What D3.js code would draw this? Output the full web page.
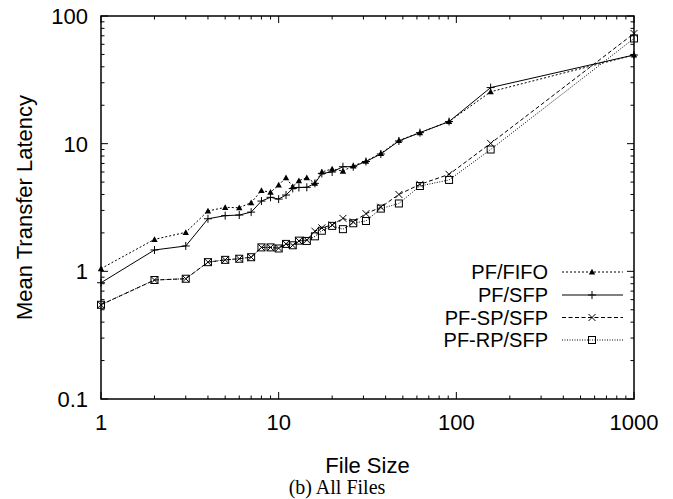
<!DOCTYPE html>
<html>
<head>
<meta charset="utf-8">
<script src="https://cdn.jsdelivr.net/npm/d3@7/dist/d3.min.js"></script>
<style>
  html, body { margin: 0; padding: 0; background: #fff; }
  svg { display: block; }
  text { font-family: "Liberation Sans", Arial, Helvetica, sans-serif; fill: #000; }
</style>
</head>
<body>
<svg id="chart" width="673" height="499"></svg>
<script>
// ---- data ----
const fileSizes = [1, 2, 3, 4, 5, 6, 7, 8, 9, 10, 11, 12, 13, 14.4, 16, 17.5, 20, 23, 26.3, 31, 37.6, 47.5, 62.4, 91, 156, 1000];
const pfFifo = [1.05, 1.78, 2.02, 2.97, 3.17, 3.15, 3.45, 4.3, 4.16, 4.74, 5.41, 4.6, 5.13, 5.41, 4.9, 6.0, 6.35, 6.1, 6.7, 7.3, 8.4, 10.6, 12.2, 14.9, 25.5, 49.5];
const pfSfp = [0.814, 1.47, 1.58, 2.58, 2.73, 2.76, 2.91, 3.55, 3.8, 3.68, 3.96, 4.46, 4.54, 4.55, 4.89, 5.85, 6.0, 6.6, 6.6, 7.25, 8.3, 10.5, 12.2, 14.9, 27.5, 49.5];
const pfSpSfp = [0.547, 0.855, 0.875, 1.18, 1.23, 1.255, 1.29, 1.54, 1.54, 1.52, 1.64, 1.6, 1.73, 1.76, 2.06, 2.19, 2.31, 2.6, 2.44, 2.83, 3.18, 4.0, 4.8, 5.75, 10.05, 73];
const pfRpSfp = [0.547, 0.855, 0.875, 1.18, 1.23, 1.255, 1.29, 1.54, 1.54, 1.51, 1.64, 1.6, 1.74, 1.73, 1.88, 2.08, 2.27, 2.14, 2.38, 2.48, 3.1, 3.4, 4.66, 5.2, 9.0, 66.7];
const seriesNames = ["PF/FIFO", "PF/SFP", "PF-SP/SFP", "PF-RP/SFP"];
const xTickValues = [1, 10, 100, 1000];
const yTickValues = [0.1, 1, 10, 100];
const xTickLabels = ["1", "10", "100", "1000"];
const yTickLabels = ["0.1", "1", "10", "100"];
const xTitle = "File Size";
const yTitle = "Mean Transfer Latency";
const caption = "(b) All Files";

// ---- layout ----
const L = 101, R = 634, T = 16, B = 399;
const svg = d3.select("#chart");
svg.append("rect").attr("width", 673).attr("height", 499).attr("fill", "#fff");

const x = d3.scaleLog().domain([1, 1000]).range([L, R]);
const y = d3.scaleLog().domain([0.1, 100]).range([B, T]);

const styles = [
  { dash: "2,2", marker: "tri" },
  { dash: null, marker: "plus" },
  { dash: "4,2.5", marker: "x" },
  { dash: "1,1.5", marker: "sq" }
];
const seriesData = [pfFifo, pfSfp, pfSpSfp, pfRpSfp];

// minor ticks
const minorX = [], minorY = [];
for (let d = 1; d < 1000; d *= 10) for (let k = 2; k <= 9; k++) minorX.push(d * k);
for (let d = 0.1; d < 99; d *= 10) for (let k = 2; k <= 9; k++) minorY.push(+(d * k).toPrecision(3));

const MAJ = 7, MIN = 3.5;
const tickG = svg.append("g").attr("stroke", "#000").attr("stroke-width", 1);
function vt(v, len) {
  tickG.append("line").attr("x1", x(v)).attr("x2", x(v)).attr("y1", B).attr("y2", B - len);
  tickG.append("line").attr("x1", x(v)).attr("x2", x(v)).attr("y1", T).attr("y2", T + len);
}
function ht(v, len) {
  tickG.append("line").attr("y1", y(v)).attr("y2", y(v)).attr("x1", L).attr("x2", L + len);
  tickG.append("line").attr("y1", y(v)).attr("y2", y(v)).attr("x1", R).attr("x2", R - len);
}
minorX.forEach(v => vt(v, MIN));
xTickValues.forEach(v => vt(v, MAJ));
minorY.forEach(v => ht(v, MIN));
yTickValues.forEach(v => ht(v, MAJ));

// tick labels
xTickValues.forEach((v, i) => {
  svg.append("text").attr("x", x(v)).attr("y", 430).attr("text-anchor", "middle")
    .attr("font-size", 22).text(xTickLabels[i]);
});
yTickValues.forEach((v, i) => {
  svg.append("text").attr("x", 88).attr("y", y(v)).attr("dy", "0.36em").attr("text-anchor", "end")
    .attr("font-size", 22).text(yTickLabels[i]);
});

// frame
svg.append("rect").attr("x", L).attr("y", T).attr("width", R - L).attr("height", B - T)
  .attr("fill", "none").attr("stroke", "#000").attr("stroke-width", 1.5);

// markers
function drawMarker(g, type, cx, cy) {
  if (type === "tri") {
    const s = 3.2;
    g.append("path").attr("d", `M${cx},${cy - s}L${cx + s},${cy + s * 0.8}L${cx - s},${cy + s * 0.8}Z`)
      .attr("fill", "#000").attr("stroke", "none");
  } else if (type === "plus") {
    const s = 4;
    g.append("path").attr("d", `M${cx - s},${cy}H${cx + s}M${cx},${cy - s}V${cy + s}`)
      .attr("stroke", "#000").attr("stroke-width", 1).attr("fill", "none");
  } else if (type === "x") {
    const s = 3.5;
    g.append("path").attr("d", `M${cx - s},${cy - s}L${cx + s},${cy + s}M${cx - s},${cy + s}L${cx + s},${cy - s}`)
      .attr("stroke", "#000").attr("stroke-width", 1).attr("fill", "none");
  } else {
    const s = 3.5;
    g.append("rect").attr("x", cx - s).attr("y", cy - s).attr("width", 2 * s).attr("height", 2 * s)
      .attr("stroke", "#000").attr("stroke-width", 1).attr("fill", "none");
  }
}

const line = d3.line().x(d => x(d[0])).y(d => y(d[1]));
seriesData.forEach((vals, si) => {
  const pts = fileSizes.map((f, i) => [f, vals[i]]);
  const g = svg.append("g");
  g.append("path").datum(pts).attr("d", line).attr("fill", "none")
    .attr("stroke", "#000").attr("stroke-width", 1)
    .attr("stroke-dasharray", styles[si].dash);
  pts.forEach(p => drawMarker(g, styles[si].marker, x(p[0]), y(p[1])));
});

// legend
const legY = [272, 295, 317.5, 340];
seriesNames.forEach((name, i) => {
  svg.append("text").attr("x", 548).attr("y", legY[i]).attr("dy", "0.36em").attr("text-anchor", "end")
    .attr("font-size", 20).text(name);
  const g = svg.append("g");
  g.append("line").attr("x1", 562).attr("x2", 623).attr("y1", legY[i]).attr("y2", legY[i])
    .attr("stroke", "#000").attr("stroke-width", 1).attr("stroke-dasharray", styles[i].dash);
  drawMarker(g, styles[i].marker, 592, legY[i]);
});

// titles
svg.append("text").attr("x", (L + R) / 2).attr("y", 473).attr("text-anchor", "middle")
  .attr("font-size", 22).text(xTitle);
svg.append("text").attr("transform", `translate(32,${(T + B) / 2}) rotate(-90)`)
  .attr("text-anchor", "middle").attr("font-size", 22).text(yTitle);
svg.append("text").attr("x", 337).attr("y", 494).attr("text-anchor", "middle")
  .style("font-family", "'Liberation Serif', 'Times New Roman', serif")
  .attr("font-size", 20).text(caption);
</script>
</body>
</html>
